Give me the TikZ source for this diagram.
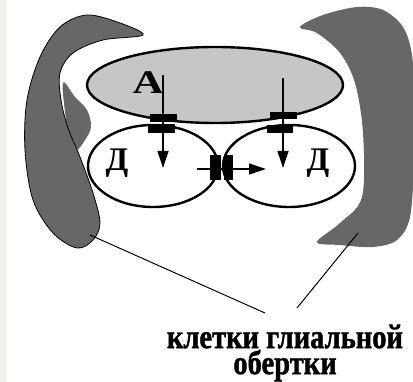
\documentclass[tikz,border=0pt]{standalone}
\usepackage{fontspec}
\setmainfont{Liberation Serif}
\newfontfamily\tallserif[FakeStretch=0.84, FakeBold=1.2]{Liberation Serif}
\newcommand\tightlines{\lineskiplimit=-20pt\relax}
\usetikzlibrary{shapes.geometric, arrows.meta, positioning}
\definecolor{gliagray}{HTML}{676767}
\definecolor{axongray}{HTML}{C6C6C6}
\definecolor{edgetint}{HTML}{F4F0F0}
\tikzset{
x=1pt, y=-1pt, % pixel-like units, y grows downwards
cell/.style={ellipse, draw, line width=2.4pt, inner sep=0pt}, % outline of a cell body
glia/.style={fill=gliagray}, % glial sheath cells
pad/.style={fill=black}, % synaptic contacts
flow/.style={-{Triangle[length=17pt,width=11pt]}, line width=1.3pt}, % direction of transmission
lead/.style={line width=1pt}, % pointer lines to the caption
letter/.style={font=\bfseries\fontsize{33}{33}\selectfont, inner sep=0pt}, % cell labels
caption/.style={font=\tallserif\bfseries\fontsize{34}{26}\selectfont\tightlines, align=center, inner sep=0pt, anchor=north}, % two-line caption, set tight
}

\begin{document}
\begin{tikzpicture}
  \useasboundingbox (0,0) rectangle (413,382);
  \fill[edgetint] (0,0) rectangle (7,382);

  % glial cells
  \fill[glia] plot[smooth cycle, tension=0.6] coordinates {(63,83) (75,97) (87,110) (91,127) (85,140) (77,150) (70,147) (66,120)};
  \filldraw[glia, draw=black, line width=0.8pt] plot[smooth cycle, tension=0.55] coordinates {(143,35) (120,23) (87,15) (60,27) (40,57) (27,100) (25,150) (33,200) (53,233) (77,248) (93,240) (100,223) (93,193) (80,157) (68,128) (61,100) (60,73) (73,53) (103,40)};
  \fill[glia] plot[smooth cycle, tension=0.55] coordinates {(300,27) (323,15) (357,7) (383,10) (403,27) (412,55) (414,100) (414,160) (410,217) (397,240) (373,247) (340,245) (317,242) (340,223) (362,197) (363,133) (355,83) (340,53) (317,33)};

  % axon and the two dendrites
  \node[cell, fill=axongray, minimum width=256pt, minimum height=76pt] (A) at (215,85) {};
  \node[cell, fill=white, minimum width=130pt, minimum height=82pt] (D1) at (153,166) {};
  \node[cell, fill=white, minimum width=132pt, minimum height=82pt] (D2) at (289,166) {};

  \node[letter] (lA) at (148,83) {\scalebox{1.3}[1]{А}};
  \node[letter] (lD1) at (117,163) {Д};
  \node[letter] (lD2) at (318,163) {Д};

  % synapses
  \fill[pad] (150,114) rectangle (177,122);
  \fill[pad] (148,124) rectangle (175,133);
  \fill[pad] (270,112) rectangle (297,119);
  \fill[pad] (267,125) rectangle (293,133);
  \fill[pad] (210,155) rectangle (221,180);
  \fill[pad] (224,155) rectangle (233,180);

  \coordinate (s1) at (163,75);
  \coordinate (t1) at (163,168);
  \coordinate (s2) at (283,78);
  \coordinate (t2) at (283,168);
  \coordinate (s3) at (197,169);
  \coordinate (t3) at (266,169);
  \draw[flow] (s1) -- (t1);
  \draw[flow] (s2) -- (t2);
  \draw[flow] (s3) -- (t3);

  % caption
  \node[caption] (sheath) at (285,324.5) {клетки глиальной\\обертки};
  \coordinate (lg) at (90,235);
  \coordinate (rg) at (358,233);
  \draw[lead] (lg) -- ([shift={(-20,-11.5)}]sheath.north);
  \draw[lead] (rg) -- ([shift={(12,-16.5)}]sheath.north);
\end{tikzpicture}
\end{document}
